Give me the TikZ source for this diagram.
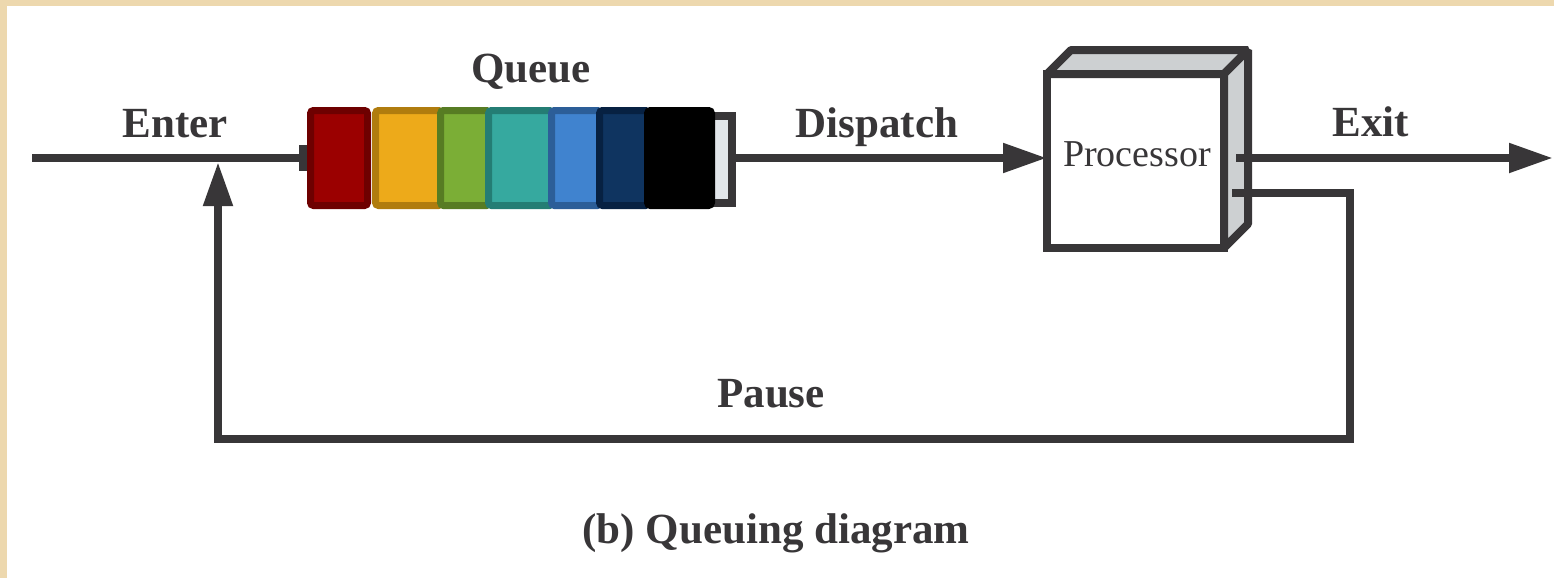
\documentclass[tikz,border=0pt]{standalone}
\usepackage{fontspec}
\setmainfont{Liberation Serif}
\usetikzlibrary{arrows.meta,calc}
\definecolor{ink}{HTML}{383638}
\definecolor{parch}{HTML}{EDD8AE}
\definecolor{redF}{HTML}{9B0000}\definecolor{redD}{HTML}{6E0000}
\definecolor{oraF}{HTML}{EDAA1A}\definecolor{oraD}{HTML}{B07C0E}
\definecolor{grnF}{HTML}{7BAE36}\definecolor{grnD}{HTML}{577C23}
\definecolor{tealF}{HTML}{36A99F}\definecolor{tealD}{HTML}{247D74}
\definecolor{bluF}{HTML}{4083CF}\definecolor{bluD}{HTML}{2C5E98}
\definecolor{navF}{HTML}{0F3460}\definecolor{navD}{HTML}{072142}
\definecolor{capF}{HTML}{E2E6EA}
\definecolor{faceF}{HTML}{CDD0D2}
\tikzset{
  lbl/.style={text=ink, font=\fontsize{21.5}{24}\selectfont\bfseries, anchor=base, inner sep=0pt},
  qbox/.style={draw, line width=3.5pt, rounded corners=1.5pt, minimum height=47.5pt, inner sep=0pt, outer sep=0pt},
  wire/.style={draw=ink, line width=4pt, line join=miter},
  arr/.style={wire, -{Triangle[length=22pt,width=14pt]}},
  face/.style={fill=faceF, draw=ink, line width=4pt, line join=bevel},
}
\begin{document}
\begin{tikzpicture}[x=0.5pt,y=-0.5pt]
\useasboundingbox (0,0) rectangle (1554,578);
\fill[parch] (0,0) rectangle (1554,578);
\fill[white] (7,6) rectangle (1554,578);

% queue
\node[fill=ink, minimum width=4pt, minimum height=13pt, inner sep=0pt, outer sep=0pt] (stub) at (303,158) {};
\node[draw=ink, fill=capF, line width=4pt, minimum width=14pt, minimum height=43.5pt, inner sep=0pt, outer sep=0pt] (cap) at (718,159.5) {};
\node[qbox, fill=redF, draw=redD, minimum width=28.5pt] (q1) at (339,158) {};
\node[qbox, fill=oraF, draw=oraD, minimum width=33pt] (q2) at (408.5,158) {};
\node[qbox, fill=grnF, draw=grnD, minimum width=24.5pt] (q3) at (465,158) {};
\node[qbox, fill=tealF, draw=tealD, minimum width=32pt] (q4) at (520.5,158) {};
\node[qbox, fill=bluF, draw=bluD, minimum width=24.5pt] (q5) at (576,158) {};
\node[qbox, fill=navF, draw=navD, minimum width=24.5pt] (q6) at (624,158) {};
\node[qbox, fill=black, draw=black, minimum width=32pt] (q7) at (679.5,158) {};

% processor
\node[draw=ink, fill=white, line width=4pt, minimum width=88.5pt, minimum height=87pt, inner sep=0pt, outer sep=0pt] (proc) at (1135.5,161) {};
\filldraw[face] (proc.north west) -- ++(24,-24) -- ++(177,0) -- (proc.north east) -- cycle;
\filldraw[face] (proc.north east) -- ++(24,-24) -- ++(0,174) -- (proc.south east) -- cycle;
\node[text=ink, font=\fontsize{19}{22}\selectfont, anchor=base, inner sep=0pt] (proclbl) at (1137,166) {Processor};

% coordinates
\coordinate (in) at (32,158);
\coordinate (exitstart) at (1236,158);
\coordinate (exitend) at (1553,158);
\coordinate (pausestart) at (1232,193);
\coordinate (pausecorner) at (1350,439);
\coordinate (pauseend) at (218,162);

% connectors
\draw[wire] (in) -- (stub.west);
\draw[arr] (cap.east |- stub) -- (stub -| proc.west);
\draw[arr] (exitstart) -- (exitend);
\draw[arr] (pausestart) -| (pausecorner) -| (pauseend);

% labels
\node[lbl] (enter) at (175,137) {Enter};
\node[lbl] (queue) at (531,83) {Queue};
\node[lbl] (dispatch) at (877,137) {Dispatch};
\node[lbl] (exit) at (1371,136) {Exit};
\node[lbl] (pause) at (771,407) {Pause};
\node[lbl] (caption) at (776,543) {(b) Queuing diagram};
\end{tikzpicture}
\end{document}
